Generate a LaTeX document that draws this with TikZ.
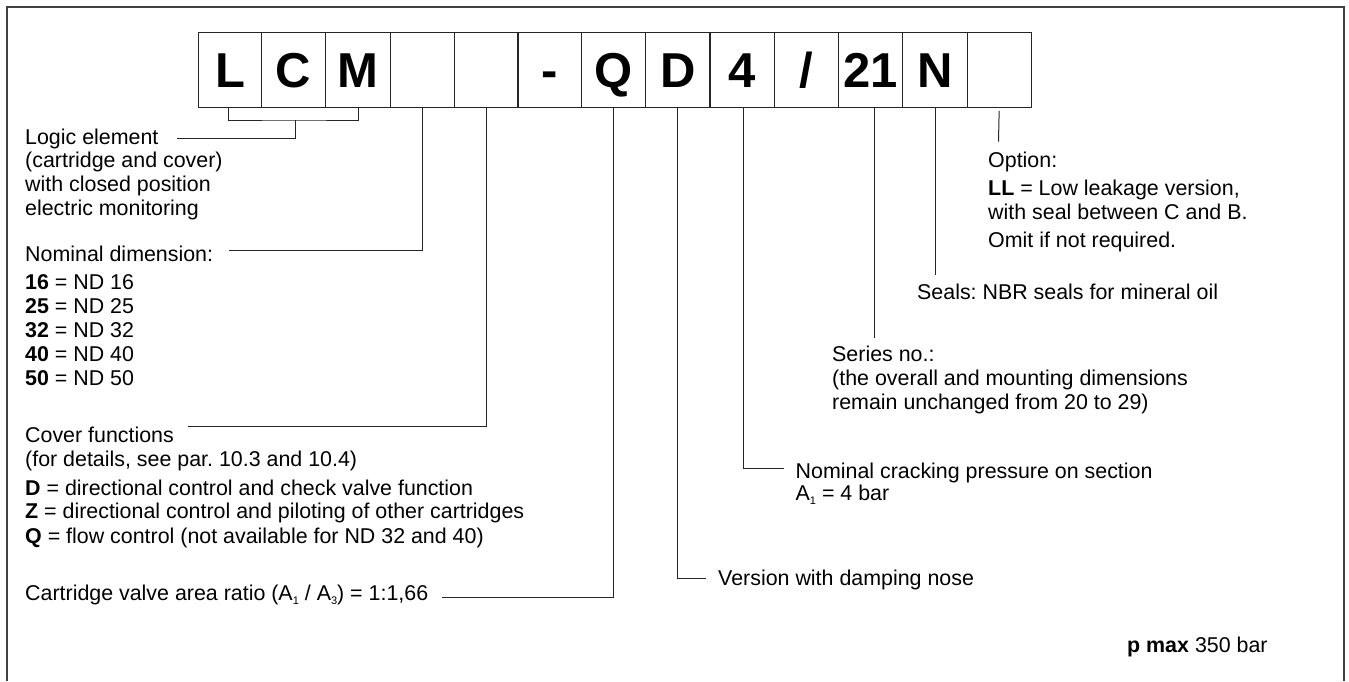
\documentclass[tikz,border=0pt]{standalone}
\usepackage{fontspec}
\setmainfont{Liberation Sans}
\newcommand\subidx[1]{\raisebox{-4.5pt}{\fontsize{11}{11}\selectfont #1}}
\begin{document}
\frenchspacing
\begin{tikzpicture}[x=1pt,y=-1pt,
  cell/.style={draw=black!85,line width=1.3pt,minimum height=75pt,inner sep=0pt,anchor=north west,
    text height=35pt,text depth=0pt,font=\fontsize{49}{49}\selectfont\bfseries},
  txt/.style={anchor=base west,inner sep=0pt,font=\fontsize{21.4}{24}\selectfont},
  conn/.style={draw=black!85,line width=1pt},
  frameline/.style={draw=black!75,line width=1.4pt}]
\useasboundingbox (0,0) rectangle (1349,681);
\draw[frameline] (7,681) -- (7,7) -- (1344,7) -- (1344,681);

% code boxes
\node[cell,minimum width=63.3pt] (b1)  at (197.7,32) {L};
\node[cell,minimum width=64pt]   (b2)  at (261,32)   {C};
\node[cell,minimum width=64.7pt] (b3)  at (325,32)   {M};
\node[cell,minimum width=63.8pt] (b4)  at (389.7,32) {};
\node[cell,minimum width=63.7pt] (b5)  at (453.5,32) {};
\node[cell,minimum width=63.5pt] (b6)  at (517.2,32) {-};
\node[cell,minimum width=64.3pt] (b7)  at (580.7,32) {Q};
\node[cell,minimum width=64.3pt] (b8)  at (645,32)   {D};
\node[cell,minimum width=64.4pt] (b9)  at (709.3,32) {4};
\node[cell,minimum width=64.3pt] (b10) at (773.7,32) {/};
\node[cell,minimum width=64pt]   (b11) at (838,32)   {21};
\node[cell,minimum width=64.5pt] (b12) at (902,32)   {N};
\node[cell,minimum width=64pt]   (b13) at (966.5,32) {};

% left column texts
\node[txt] (logic1) at (25,144)   {Logic element};
\node[txt] (logic2) at (25,167.7) {(cartridge and cover)};
\node[txt] (logic3) at (25,191.7) {with closed position};
\node[txt] (logic4) at (25,215.7) {electric monitoring};

\node[txt] (nomdim) at (25,261) {Nominal dimension:};
\node[txt] (nd16) at (25,289) {\textbf{16} = ND 16};
\node[txt] (nd25) at (25,313) {\textbf{25} = ND 25};
\node[txt] (nd32) at (25,337) {\textbf{32} = ND 32};
\node[txt] (nd40) at (25,361) {\textbf{40} = ND 40};
\node[txt] (nd50) at (25,385) {\textbf{50} = ND 50};

\node[txt] (cover1) at (25,442.5) {Cover functions};
\node[txt] (cover2) at (25,466.7) {(for details, see par. 10.3 and 10.4)};
\node[txt] (coverD) at (25,495)   {\textbf{D} = directional control and check valve function};
\node[txt] (coverZ) at (25,518.7) {\textbf{Z} = directional control and piloting of other cartridges};
\node[txt] (coverQ) at (25,543)   {\textbf{Q} = flow control (not available for ND 32 and 40)};

\node[txt] (cart) at (25,600) {Cartridge valve area ratio (A\subidx{1} / A\subidx{3}) = 1:1,66};

% right texts
\node[txt] (opt1) at (988,167.5) {Option:};
\node[txt] (opt2) at (988,195)   {\textbf{LL} = Low leakage version,};
\node[txt] (opt3) at (988,219)   {with seal between C and B.};
\node[txt] (opt4) at (988,247)   {Omit if not required.};

\node[txt] (seals) at (917,299) {Seals: NBR seals for mineral oil};

\node[txt] (ser1) at (832,361.7) {Series no.:};
\node[txt] (ser2) at (832,385.7) {(the overall and mounting dimensions};
\node[txt] (ser3) at (832,409.7) {remain unchanged from 20 to 29)};

\node[txt] (crack1) at (795.5,478.5) {Nominal cracking pressure on section};
\node[txt] (crack2) at (795.5,500)   {A\subidx{1} = 4 bar};

\node[txt] (version) at (718,585.5) {Version with damping nose};

\node[txt] (pmax) at (1127,652.5) {\textbf{p max} 350 bar};

% connector ends
\coordinate (brk) at (295.3,120);
\coordinate (logicend) at (177,138.3);
\coordinate (nomend) at (229,250);
\coordinate (covend) at (187.5,426);
\coordinate (cartend) at (441.7,597.7);
\coordinate (verend) at (706,578.3);
\coordinate (crackend) at (784,468.3);
\coordinate (serend) at (874.7,338);
\coordinate (sealend) at (935.7,275);
\coordinate (optend) at (998.5,141.7);

% connectors
\draw[conn] ([xshift=-2pt]b1.south) |- (brk) -| (b3.south);
\draw[conn] (brk) |- (logicend);
\draw[conn] (b4.south) |- (nomend);
\draw[conn] (b5.south) |- (covend);
\draw[conn] (b7.south) |- (cartend);
\draw[conn] (b8.south) |- (verend);
\draw[conn] ([xshift=1.2pt]b9.south) |- (crackend);
\draw[conn] (b11.south -| serend) -- (serend);
\draw[conn] (b12.south -| sealend) -- (sealend);
\draw[conn] ([yshift=-2.6pt]b13.south) -- (optend);
\end{tikzpicture}
\end{document}
